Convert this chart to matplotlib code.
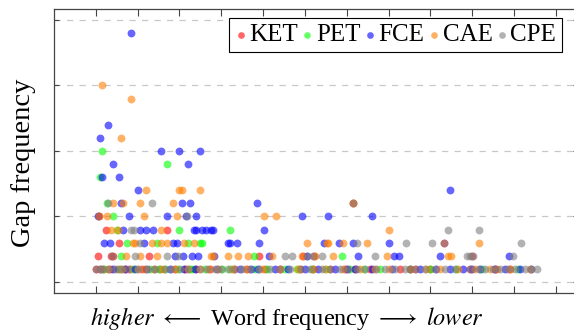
import matplotlib
matplotlib.use("Agg")
import matplotlib.pyplot as plt

plt.rcParams["font.family"] = ["Liberation Serif", "DejaVu Serif"]
plt.rcParams["mathtext.fontset"] = "stix"

# x = position on the word-frequency axis (rank), y = gap frequency
ket_x = [108, 124, 270, 155, 106, 136, 142, 226, 491, 595, 622, 1000, 932, 716,
         100, 117, 153, 182, 210, 254, 313, 373, 462, 505, 588, 660, 696, 756,
         828, 864, 995, 1055,
         135, 170, 240, 290, 340, 430, 540, 620, 720, 900, 1090]
ket_y = [5, 4, 4, 3, 2, 2, 2, 2, 2, 2, 2, 2, 3, 6,
         1, 1, 1, 1, 1, 1, 1, 1, 1, 1, 1, 1, 1, 1,
         1, 1, 1, 1,
         1, 1, 1, 1, 1, 1, 1, 1, 1, 1, 1]

pet_x = [114, 270, 110, 126, 140, 300, 421, 150, 175, 246, 350, 355, 320, 160,
         478, 688,
         158, 230, 265, 297, 325, 361, 402, 481, 553, 617, 708, 780, 899, 1024,
         120, 190, 250, 330, 420, 510, 580, 650, 740, 850, 960, 1110]
pet_y = [10, 9, 8, 6, 5, 4, 4, 4, 3, 3, 3, 3, 3, 2,
         2, 2,
         1, 1, 1, 1, 1, 1, 1, 1, 1, 1, 1, 1, 1, 1,
         1, 1, 1, 1, 1, 1, 1, 1, 1, 1, 1, 1]

fce_x = [185, 130, 110, 255, 300, 350, 140, 320, 114, 155, 200, 947,
         160, 305, 325, 486,
         104, 179, 270, 315, 340, 592, 656, 761,
         164, 206, 220, 236, 335, 340, 355, 364, 375, 380, 501,
         120, 134, 215, 285, 295, 415, 420, 437, 490, 646, 682, 716, 801,
         290, 309, 329, 345, 383, 513, 604, 727, 812, 826, 922, 1087,
         141, 170, 194, 277, 337, 445, 488, 529, 600, 632, 672, 720, 808,
         876, 914, 947, 978, 1019, 1055, 1079, 1115,
         110, 220, 310, 390, 470, 560, 700, 760, 850, 1000, 1140]
fce_y = [19, 12, 11, 10, 10, 10, 9, 9, 8, 8, 7, 7,
         6, 6, 6, 6,
         5, 5, 5, 5, 5, 5, 5, 5,
         4, 4, 4, 4, 4, 4, 4, 4, 4, 4, 4,
         3, 3, 3, 3, 3, 3, 3, 3, 3, 3, 3, 3, 3,
         2, 2, 2, 2, 2, 2, 2, 2, 2, 2, 2, 2,
         1, 1, 1, 1, 1, 1, 1, 1, 1, 1, 1, 1, 1,
         1, 1, 1, 1, 1, 1, 1, 1,
         1, 1, 1, 1, 1, 1, 1, 1, 1, 1, 1]

cae_x = [114, 185, 160, 220, 300, 305, 350,
         140, 164, 205, 285, 716,
         108, 126, 215, 295, 501, 531,
         136, 154, 255, 801,
         190, 194, 235, 255, 270, 311, 335, 606, 652, 656, 690, 748, 1017,
         173, 205, 246, 375, 381, 417, 441, 465, 520, 592, 624, 666, 797, 942, 949,
         110, 163, 218, 289, 349, 392, 426, 498, 541, 584, 648, 732, 768, 852,
         923, 966, 1007, 1043, 1091, 1139,
         130, 200, 260, 320, 370, 460, 620, 690, 800, 890, 1060]
cae_y = [15, 14, 11, 7, 7, 7, 7,
         6, 6, 6, 6, 6,
         5, 5, 5, 5, 5, 5,
         4, 4, 4, 4,
         3, 3, 3, 3, 3, 3, 3, 3, 3, 3, 3, 3, 3,
         2, 2, 2, 2, 2, 2, 2, 2, 2, 2, 2, 2, 2, 2, 2,
         1, 1, 1, 1, 1, 1, 1, 1, 1, 1, 1, 1, 1, 1,
         1, 1, 1, 1, 1, 1,
         1, 1, 1, 1, 1, 1, 1, 1, 1, 1, 1]

cpe_x = [130, 235, 716, 318,
         183, 191, 942, 1017,
         206, 725, 842, 903, 932, 1117,
         138, 194, 270, 297, 553, 569, 604, 620, 640, 768, 987, 995, 1002, 1097,
         100, 115, 129, 177, 201, 225, 242, 301, 320, 349, 385, 416, 433, 469,
         517, 565, 612, 641, 684, 703, 744, 792, 816, 840, 887, 935, 959, 995,
         1031, 1067, 1103, 1127, 1155,
         145, 160, 265, 280, 365, 400, 450, 490, 540, 590, 660, 725, 770, 865,
         910, 1015, 1050, 1085, 1140]
cpe_y = [6, 6, 6, 5,
         4, 4, 4, 4,
         3, 3, 3, 3, 3, 3,
         2, 2, 2, 2, 2, 2, 2, 2, 2, 2, 2, 2, 2, 2,
         1, 1, 1, 1, 1, 1, 1, 1, 1, 1, 1, 1, 1, 1,
         1, 1, 1, 1, 1, 1, 1, 1, 1, 1, 1, 1, 1, 1,
         1, 1, 1, 1, 1,
         1, 1, 1, 1, 1, 1, 1, 1, 1, 1, 1, 1, 1, 1,
         1, 1, 1, 1, 1]

series = [
    ("KET", ket_x, ket_y, (1.0, 0.0, 0.0)),
    ("PET", pet_x, pet_y, (0.0, 1.0, 0.0)),
    ("FCE", fce_x, fce_y, (0.0, 0.0, 1.0)),
    ("CAE", cae_x, cae_y, (1.0, 0.5, 0.0)),
    ("CPE", cpe_x, cpe_y, (0.5, 0.5, 0.5)),
]

fig = plt.figure(figsize=(5.74, 3.32), dpi=100)
ax = fig.add_axes([0.0941, 0.1166, 0.913, 0.855])

for name, xs, ys, col in series:
    ax.scatter(xs, ys, s=32, color=col, alpha=0.6, linewidths=0, label=name,
               zorder=3)

ax.set_xlim(0, 1253)
ax.set_ylim(-0.86, 20.8)
ax.set_xticks(range(100, 1300, 100))
ax.set_yticks([0, 5, 10, 15, 20])
ax.set_xticklabels([])
ax.set_yticklabels([])
ax.tick_params(axis="x", direction="in", length=5, width=0.8, top=True,
               color="#444444")
ax.tick_params(axis="y", direction="in", length=3.5, width=0.8, right=True,
               color="#444444")
ax.yaxis.grid(True, linestyle=(0, (5, 5)), color="#c8c8c8", linewidth=0.9)
for sp in ax.spines.values():
    sp.set_color("#444444")
    sp.set_linewidth(0.9)

ax.set_ylabel("Gap frequency", fontsize=20.5)
ax.yaxis.set_label_coords(-0.034, 0.459)
ax.set_xlabel(r"$\mathit{higher}$ $\longleftarrow$ Word frequency "
              r"$\longrightarrow$ $\mathit{lower}$", fontsize=17.5)
ax.xaxis.set_label_coords(0.445, -0.043)

leg = ax.legend(loc="upper right", bbox_to_anchor=(561.7 / 574, 1 - 18.3 / 332),
                bbox_transform=fig.transFigure, borderaxespad=0, ncol=5,
                fontsize=18, markerscale=0.85, handletextpad=0.1,
                columnspacing=0.12, handlelength=0.5, borderpad=0.22,
                fancybox=False, framealpha=1, edgecolor="black")
leg.get_frame().set_linewidth(0.8)

fig.savefig("out.png", dpi=100)
